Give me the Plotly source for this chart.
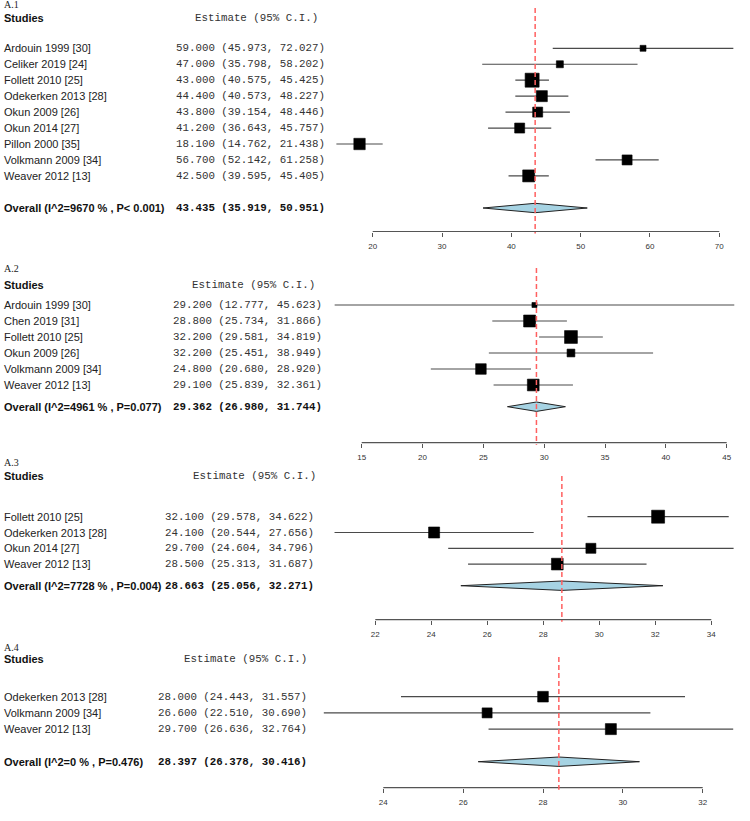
import plotly.graph_objects as go

# ------------------------------------------------------------------ data
a1_studies = ["Ardouin 1999 [30]", "Celiker 2019 [24]", "Follett 2010 [25]",
              "Odekerken 2013 [28]", "Okun 2009 [26]", "Okun 2014 [27]",
              "Pillon 2000 [35]", "Volkmann 2009 [34]", "Weaver 2012 [13]"]
a1_est = [59.0, 47.0, 43.0, 44.4, 43.8, 41.2, 18.1, 56.7, 42.5]
a1_lo = [45.973, 35.798, 40.575, 40.573, 39.154, 36.643, 14.762, 52.142, 39.595]
a1_hi = [72.027, 58.202, 45.425, 48.227, 48.446, 45.757, 21.438, 61.258, 45.405]
a1_weight = [18, 25, 100, 62, 51, 51, 66, 51, 73]
a1_overall = [43.435, 35.919, 50.951]
a1_overall_label = "Overall (I^2=9670 % , P< 0.001)"
a1_ticks = [20, 30, 40, 50, 60, 70]

a2_studies = ["Ardouin 1999 [30]", "Chen 2019 [31]", "Follett 2010 [25]",
              "Okun 2009 [26]", "Volkmann 2009 [34]", "Weaver 2012 [13]"]
a2_est = [29.2, 28.8, 32.2, 32.2, 24.8, 29.1]
a2_lo = [12.777, 25.734, 29.581, 25.451, 20.680, 25.839]
a2_hi = [45.623, 31.866, 34.819, 38.949, 28.920, 32.361]
a2_weight = [13, 73, 84, 31, 57, 70]
a2_overall = [29.362, 26.980, 31.744]
a2_overall_label = "Overall (I^2=4961 % , P=0.077)"
a2_ticks = [15, 20, 25, 30, 35, 40, 45]

a3_studies = ["Follett 2010 [25]", "Odekerken 2013 [28]", "Okun 2014 [27]",
              "Weaver 2012 [13]"]
a3_est = [32.1, 24.1, 29.7, 28.5]
a3_lo = [29.578, 20.544, 24.604, 25.313]
a3_hi = [34.622, 27.656, 34.796, 31.687]
a3_weight = [86, 62, 51, 70]
a3_overall = [28.663, 25.056, 32.271]
a3_overall_label = "Overall (I^2=7728 % , P=0.004)"
a3_ticks = [22, 24, 26, 28, 30, 32, 34]

a4_studies = ["Odekerken 2013 [28]", "Volkmann 2009 [34]", "Weaver 2012 [13]"]
a4_est = [28.0, 26.6, 29.7]
a4_lo = [24.443, 22.510, 26.636]
a4_hi = [31.557, 30.690, 32.764]
a4_weight = [58, 51, 62]
a4_overall = [28.397, 26.378, 30.416]
a4_overall_label = "Overall (I^2=0 % , P=0.476)"
a4_ticks = [24, 26, 28, 30, 32]

panel_tags = ["A.1", "A.2", "A.3", "A.4"]

# ------------------------------------------------------------------ layout (pixels)
W, H = 750, 821
panel_layout = [
    dict(tag_y=4.5, head_y=17.5, row0=48.3, step=15.95, overall_y=208.0, red_top=8,
         axis_y=231.5, tick_px=(372.7, 719.3), est_x=175.0, head_x=194.0),
    dict(tag_y=268.3, head_y=285.0, row0=305.0, step=16.0, overall_y=406.7, red_top=268,
         axis_y=442.7, tick_px=(361.7, 726.7), est_x=172.0, head_x=191.0),
    dict(tag_y=462.3, head_y=475.7, row0=516.7, step=15.8, overall_y=585.7, red_top=476,
         axis_y=619.7, tick_px=(375.3, 711.3), est_x=164.3, head_x=191.7),
    dict(tag_y=647.3, head_y=659.3, row0=696.7, step=16.2, overall_y=761.7, red_top=657,
         axis_y=787.7, tick_px=(383.3, 702.7), est_x=156.7, head_x=182.7),
]

panels = [
    (a1_studies, a1_est, a1_lo, a1_hi, a1_weight, a1_overall, a1_overall_label, a1_ticks),
    (a2_studies, a2_est, a2_lo, a2_hi, a2_weight, a2_overall, a2_overall_label, a2_ticks),
    (a3_studies, a3_est, a3_lo, a3_hi, a3_weight, a3_overall, a3_overall_label, a3_ticks),
    (a4_studies, a4_est, a4_lo, a4_hi, a4_weight, a4_overall, a4_overall_label, a4_ticks),
]

SANS = "Liberation Sans, Arial, sans-serif"
MONO = "Liberation Mono, Courier New, monospace"
SERIF = "Liberation Serif, Times New Roman, serif"
CI_COLOR = "#4a4a4a"
AXIS_COLOR = "#555555"
RED = "#ff6060"
DIAMOND_FILL = "#a6d3e3"

fig = go.Figure()
annotations = []
shapes = []
layout_axes = {}


def txt(x, y, text, font, size, bold=False, color="#111"):
    annotations.append(dict(
        x=x / W, xref="paper", y=y, yref="y", text=("<b>%s</b>" % text) if bold else text,
        showarrow=False, xanchor="left", yanchor="middle",
        font=dict(family=font, size=size, color=color), borderpad=0))


for i, (studies, est, lo, hi, wt, ov, ov_label, ticks) in enumerate(panels):
    L = panel_layout[i]
    axname = "x" if i == 0 else "x%d" % (i + 1)
    axkey = "xaxis" if i == 0 else "xaxis%d" % (i + 1)

    # x range so that first/last ticks land at measured pixel positions
    p0, p1 = L["tick_px"]
    t0, t1 = ticks[0], ticks[-1]
    scale = (p1 - p0) / (t1 - t0)
    rng = [t0 - p0 / scale, t0 + (W - p0) / scale]

    ax = dict(domain=[0, 1], range=rng, anchor="free",
              position=1 - L["axis_y"] / H, side="bottom",
              showgrid=False, zeroline=False, showline=False,
              tickmode="array", tickvals=ticks, ticktext=[str(t) for t in ticks],
              ticks="outside", ticklen=4, tickwidth=1, tickcolor=AXIS_COLOR,
              tickfont=dict(family=SANS, size=8, color="#333333"),
              ticklabelstandoff=3, fixedrange=True)
    if i > 0:
        ax["overlaying"] = "x"
    layout_axes[axkey] = ax

    rows_y = [L["row0"] + k * L["step"] for k in range(len(studies))]

    # axis line between first and last ticks
    shapes.append(dict(type="line", xref=axname, yref="y", x0=t0, x1=t1,
                       y0=L["axis_y"], y1=L["axis_y"],
                       line=dict(color=AXIS_COLOR, width=1.2), layer="below"))
    # reference line at pooled estimate
    shapes.append(dict(type="line", xref=axname, yref="y", x0=ov[0], x1=ov[0],
                       y0=L["red_top"], y1=L["axis_y"] + 2,
                       line=dict(color=RED, width=1.5, dash="5px,3px"), layer="above"))

    # CI lines
    cx, cy = [], []
    for l, h, y in zip(lo, hi, rows_y):
        cx += [l, h, None]
        cy += [y, y, None]
    fig.add_trace(go.Scatter(x=cx, y=cy, mode="lines", xaxis=axname, yaxis="y",
                             line=dict(color=CI_COLOR, width=1.2),
                             hoverinfo="skip", showlegend=False))
    # boxes
    fig.add_trace(go.Scatter(x=est, y=rows_y, mode="markers", xaxis=axname, yaxis="y",
                             marker=dict(symbol="square", color="#000000", opacity=1,
                                         size=[1.4 * w ** 0.5 for w in wt],
                                         line=dict(width=0.6, color="#000000")),
                             opacity=1, showlegend=False, cliponaxis=False))
    # diamond
    e, dl, dh = ov
    yo = L["overall_y"]
    fig.add_trace(go.Scatter(x=[dl, e, dh, e, dl], y=[yo, yo - 4.7, yo, yo + 4.7, yo],
                             mode="lines", fill="toself", fillcolor=DIAMOND_FILL,
                             xaxis=axname, yaxis="y",
                             line=dict(color="#222", width=1),
                             hoverinfo="skip", showlegend=False))

    # texts
    txt(3, L["tag_y"], panel_tags[i], SERIF, 10, color="#222")
    txt(3, L["head_y"], "Studies", SANS, 11, bold=True)
    txt(L["head_x"], L["head_y"], "Estimate (95% C.I.)", MONO, 10.8, color="#333")
    for s, e_, l_, h_, y in zip(studies, est, lo, hi, rows_y):
        txt(3, y, s, SANS, 11, color="#222")
        txt(L["est_x"], y, "%.3f (%.3f, %.3f)" % (e_, l_, h_), MONO, 10.8, color="#333")
    txt(3, yo, ov_label, SANS, 11, bold=True)
    txt(L["est_x"], yo, "%.3f (%.3f, %.3f)" % (e, dl, dh), MONO, 10.8, bold=True)

fig.update_layout(
    width=W, height=H, margin=dict(l=0, r=0, t=0, b=0),
    paper_bgcolor="white", plot_bgcolor="white",
    yaxis=dict(domain=[0, 1], range=[H, 0], visible=False, fixedrange=True),
    annotations=annotations, shapes=shapes, showlegend=False,
    **layout_axes,
)

fig.write_html("out.html", config={"displayModeBar": False},
               post_script="document.body.style.margin='0px';"
                           "document.body.style.overflow='hidden';")
